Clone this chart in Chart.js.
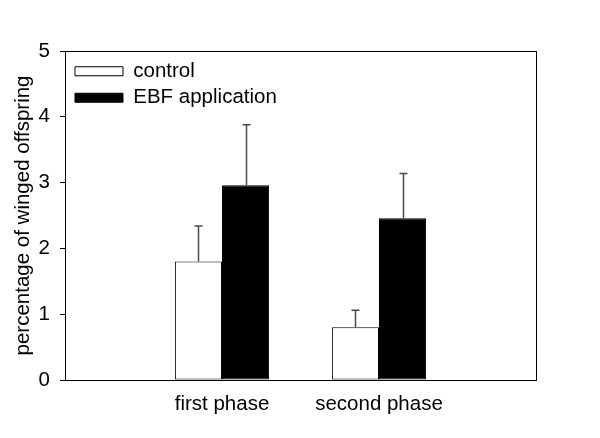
<!DOCTYPE html>
<html>
<head>
<meta charset="utf-8">
<script src="https://cdn.jsdelivr.net/npm/chart.js@4/dist/chart.umd.min.js"></script>
<style>
  html, body { margin: 0; padding: 0; background: #fff; }
  #wrap { width: 600px; height: 438px; }
</style>
</head>
<body>
<div id="wrap"><canvas id="chart" width="600" height="438"></canvas></div>
<script>
// values
const categories = ['first phase', 'second phase'];
const controlMeans = [1.80, 0.80];
const controlErr = [0.54, 0.26];
const ebfMeans = [2.96, 2.46];
const ebfErr = [0.92, 0.68];
const yTicks = [0, 1, 2, 3, 4, 5];

// empty slots either side so the two groups sit at 1 and 2 on a 0..3 axis
const labels = ['', ...categories, ''];
const pad = arr => [null, ...arr, null];

const fontSize = 20.5;
Chart.defaults.font.family = '"Liberation Sans", Arial, sans-serif';
Chart.defaults.color = '#000';

// upper error bars only
const errorBars = {
  id: 'errorBars',
  afterDatasetsDraw(chart) {
    const { ctx, scales: { y } } = chart;
    ctx.save();
    ctx.strokeStyle = '#4a4a4a';
    ctx.lineWidth = 1.5;
    chart.data.datasets.forEach((ds, i) => {
      const meta = chart.getDatasetMeta(i);
      meta.data.forEach((bar, j) => {
        const v = ds.data[j];
        if (v == null) return;
        const top = y.getPixelForValue(v + ds.errors[j]);
        const x = Math.round(bar.x) + 0.5;
        ctx.beginPath();
        ctx.moveTo(x, bar.y);
        ctx.lineTo(x, top);
        ctx.moveTo(x - 4, top);
        ctx.lineTo(x + 4, top);
        ctx.stroke();
      });
    });
    ctx.restore();
  }
};

// box round the plot area + put the legend inside its top-left corner
const frame = {
  id: 'frame',
  afterLayout(chart) {
    const a = chart.chartArea;
    chart.legend.left = a.left + 4;
    chart.legend.top = a.top + 4;
  },
  afterDraw(chart) {
    const { ctx, chartArea: a } = chart;
    ctx.save();
    ctx.strokeStyle = '#000';
    ctx.lineWidth = 1;
    ctx.strokeRect(Math.round(a.left) + 0.5, Math.round(a.top) + 0.5,
      Math.round(a.right - a.left), Math.round(a.bottom - a.top));
    ctx.restore();
  }
};

new Chart(document.getElementById('chart'), {
  type: 'bar',
  data: {
    labels: labels,
    datasets: [
      {
        label: 'control',
        data: pad(controlMeans),
        errors: pad(controlErr),
        backgroundColor: '#fff',
        borderColor: '#000',
        borderWidth: 1,
        borderSkipped: false
      },
      {
        label: 'EBF application',
        data: pad(ebfMeans),
        errors: pad(ebfErr),
        backgroundColor: '#000',
        borderColor: '#000',
        borderWidth: 1,
        borderSkipped: false
      }
    ]
  },
  options: {
    responsive: false,
    animation: false,
    devicePixelRatio: 1,
    categoryPercentage: 0.6,
    barPercentage: 1.0,
    layout: { padding: { top: 51, right: 64, left: 0, bottom: 0 } },
    plugins: {
      tooltip: { enabled: false },
      legend: {
        position: 'chartArea',
        align: 'start',
        labels: {
          boxWidth: 48,
          boxHeight: 9,
          padding: 6,
          font: { size: fontSize },
          color: '#000'
        }
      }
    },
    scales: {
      x: {
        offset: false,
        grid: { display: false, drawTicks: false },
        border: { display: true, color: '#000', width: 1 },
        ticks: {
          autoSkip: false,
          maxRotation: 0,
          padding: 12,
          font: { size: fontSize },
          color: '#000',
          callback: (v, i) => labels[i]
        },
        afterFit(scale) { scale.height = 58; }
      },
      y: {
        min: 0,
        max: 5,
        afterBuildTicks(scale) { scale.ticks = yTicks.map(v => ({ value: v })); },
        grid: { drawOnChartArea: false, tickLength: 5, color: '#000' },
        border: { display: true, color: '#000', width: 1 },
        ticks: { padding: 10, font: { size: fontSize }, color: '#000' },
        title: {
          display: true,
          text: 'percentage of winged offspring',
          font: { size: fontSize },
          color: '#000',
          padding: { top: 11, bottom: 0 }
        },
        afterFit(scale) { scale.width = 65; }
      }
    }
  },
  plugins: [errorBars, frame]
});
</script>
</body>
</html>
